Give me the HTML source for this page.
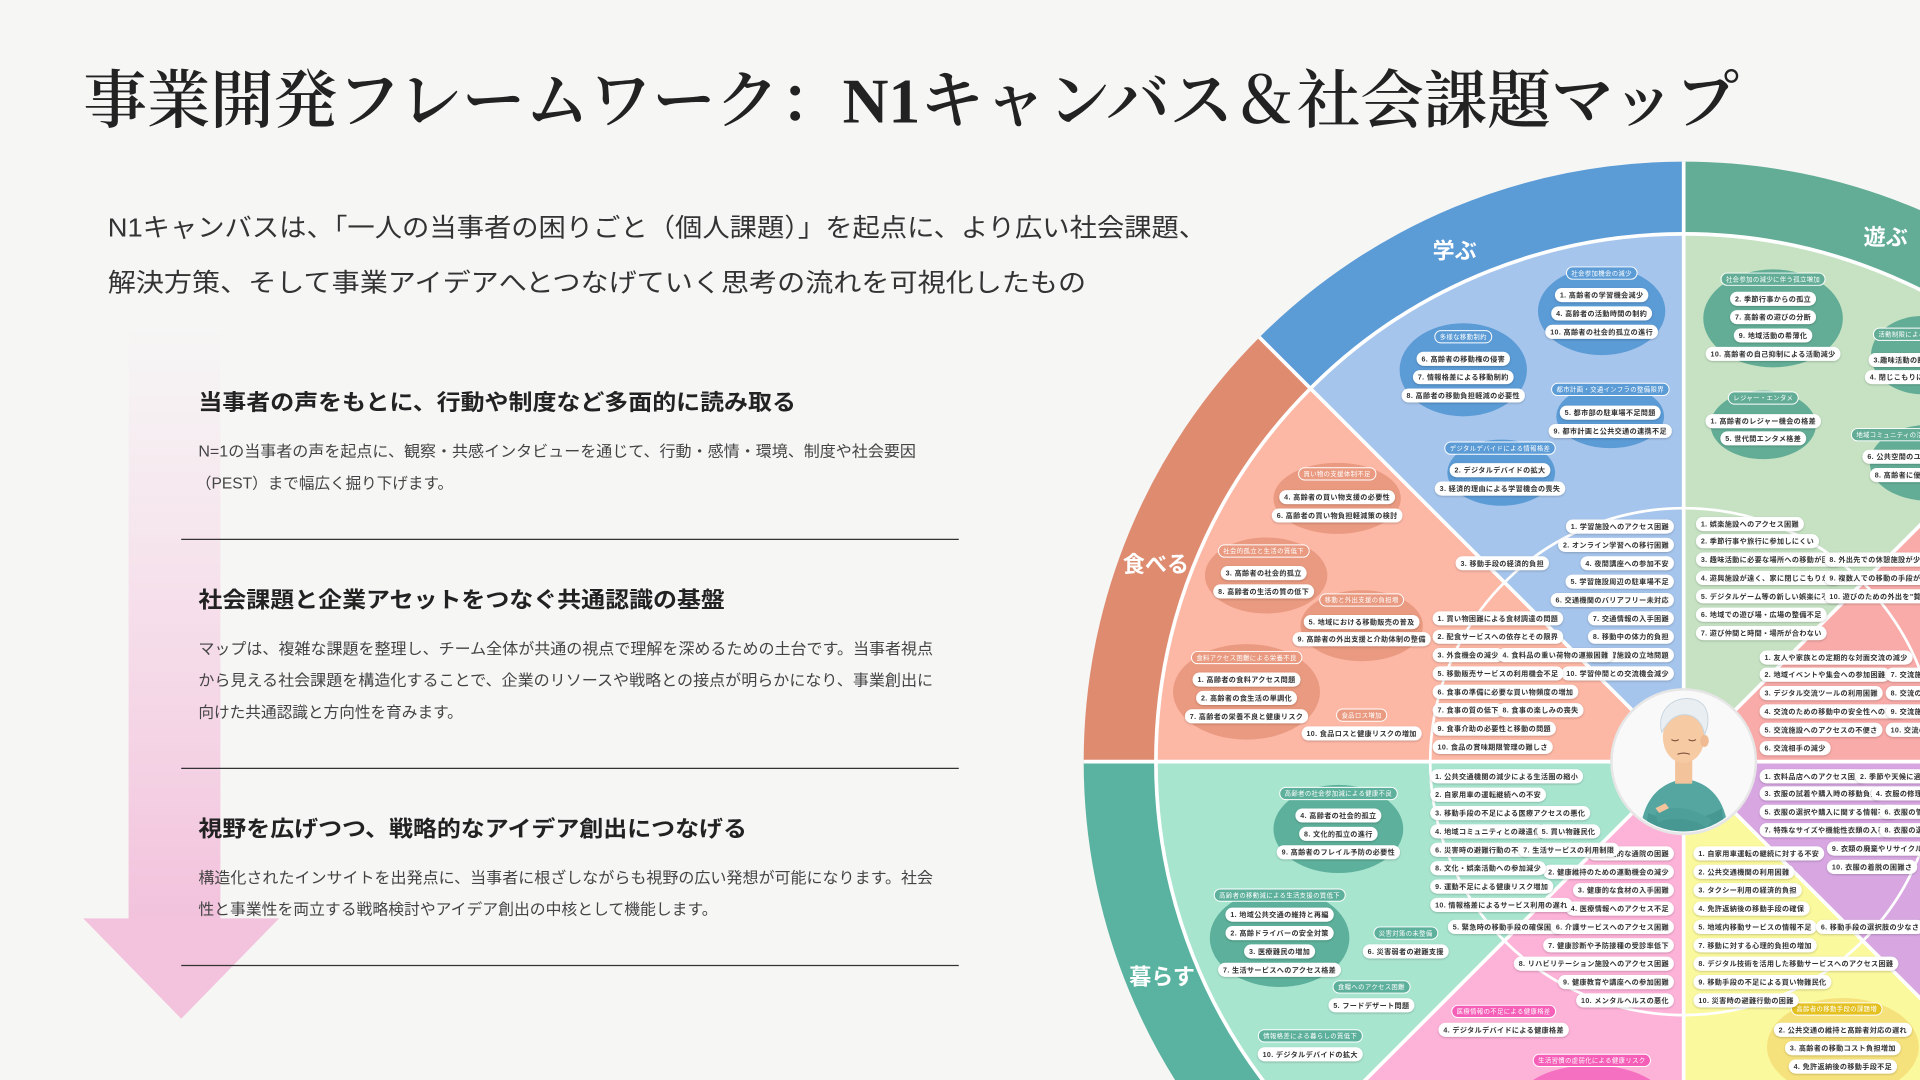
<!DOCTYPE html>
<html><head><meta charset="utf-8">
<style>
html,body{margin:0;padding:0;background:#f6f6f5;width:1920px;height:1080px;overflow:hidden;}
svg{display:block;}
.jp{font-family:"Liberation Sans","Noto Sans CJK JP",sans-serif;}
.p{font-family:"Liberation Sans","Noto Sans CJK JP",sans-serif;font-size:5.8px;font-weight:700;fill:#333;letter-spacing:0.3px;}
.l{font-family:"Liberation Sans","Noto Sans CJK JP",sans-serif;font-size:5.2px;fill:#fff;letter-spacing:0.3px;}
.sec{font-family:"Liberation Sans","Noto Sans CJK JP",sans-serif;font-size:18px;font-weight:700;fill:#fff;}
</style></head><body>
<svg id="s" xmlns="http://www.w3.org/2000/svg" width="1920" height="1080" viewBox="0 0 1568 882">
<defs>
<filter id="sh" x="-20%" y="-50%" width="140%" height="200%"><feDropShadow dx="0" dy="0.7" stdDeviation="0.8" flood-color="#000" flood-opacity="0.22"/></filter>
<linearGradient id="ag" x1="0" y1="0" x2="0" y2="1"><stop offset="0" stop-color="#f7d3e6" stop-opacity="0"/><stop offset="0.5" stop-color="#f5cde2" stop-opacity="0.6"/><stop offset="1" stop-color="#f2bfdb" stop-opacity="0.95"/></linearGradient>
<clipPath id="pc"><circle cx="1375" cy="622" r="57"/></clipPath>
</defs>
<rect width="1568" height="882" fill="#f6f6f5"/>

<rect x="105" y="265" width="75" height="486" fill="url(#ag)"/>
<polygon points="68,750 228,750 148,832" fill="#f3c3dd"/>

<text x="68" y="100" textLength="1352" lengthAdjust="spacingAndGlyphs" style="font-family:'Liberation Serif','Noto Serif CJK SC',serif;font-size:52px;font-weight:600;fill:#222">事業開発フレームワーク：N1キャンバス＆社会課題マップ</text>
<text class="jp" x="88" y="193" textLength="897" lengthAdjust="spacingAndGlyphs" style="font-size:21px;fill:#333">N1キャンバスは、「一人の当事者の困りごと（個人課題）」を起点に、より広い社会課題、</text>
<text class="jp" x="88" y="238" textLength="799" lengthAdjust="spacingAndGlyphs" style="font-size:21px;fill:#333">解決方策、そして事業アイデアへとつなげていく思考の流れを可視化したもの</text>

<g class="jp" style="fill:#222">
<text x="162" y="335" textLength="488" lengthAdjust="spacingAndGlyphs" style="font-size:18px;font-weight:700">当事者の声をもとに、行動や制度など多面的に読み取る</text>
<text x="162" y="496" textLength="430" lengthAdjust="spacingAndGlyphs" style="font-size:18px;font-weight:700">社会課題と企業アセットをつなぐ共通認識の基盤</text>
<text x="162" y="683" textLength="448" lengthAdjust="spacingAndGlyphs" style="font-size:18px;font-weight:700">視野を広げつつ、戦略的なアイデア創出につなげる</text>
</g>
<g class="jp" style="font-size:12.5px;fill:#444">
<text x="162" y="373" textLength="586" lengthAdjust="spacingAndGlyphs">N=1の当事者の声を起点に、観察・共感インタビューを通じて、行動・感情・環境、制度や社会要因</text>
<text x="160" y="399" textLength="210" lengthAdjust="spacingAndGlyphs">（PEST）まで幅広く掘り下げます。</text>
<text x="162" y="534" textLength="600" lengthAdjust="spacingAndGlyphs">マップは、複雑な課題を整理し、チーム全体が共通の視点で理解を深めるための土台です。当事者視点</text>
<text x="162" y="560" textLength="600" lengthAdjust="spacingAndGlyphs">から見える社会課題を構造化することで、企業のリソースや戦略との接点が明らかになり、事業創出に</text>
<text x="162" y="586" textLength="216" lengthAdjust="spacingAndGlyphs">向けた共通認識と方向性を育みます。</text>
<text x="162" y="721" textLength="600" lengthAdjust="spacingAndGlyphs">構造化されたインサイトを出発点に、当事者に根ざしながらも視野の広い発想が可能になります。社会</text>
<text x="162" y="747" textLength="424" lengthAdjust="spacingAndGlyphs">性と事業性を両立する戦略検討やアイデア創出の中核として機能します。</text>
</g>
<g stroke="#333" stroke-width="1"><line x1="148" y1="440.5" x2="783" y2="440.5"/><line x1="148" y1="627.5" x2="783" y2="627.5"/><line x1="148" y1="788.5" x2="783" y2="788.5"/></g>

<path d="M1375 622 L1028.5 275.5 A490 490 0 0 1 1375 132 Z" fill="#5b9bd6"/>
<path d="M1375 622 L1375 132 A490 490 0 0 1 1721.5 275.5 Z" fill="#63ad96"/>
<path d="M1375 622 L1721.5 275.5 A490 490 0 0 1 1865 622 Z" fill="#ee8c8a"/>
<path d="M1375 622 L1865 622 A490 490 0 0 1 1721.5 968.5 Z" fill="#b57bc6"/>
<path d="M1375 622 L1721.5 968.5 A490 490 0 0 1 1375 1112 Z" fill="#e8d64c"/>
<path d="M1375 622 L1375 1112 A490 490 0 0 1 1028.5 968.5 Z" fill="#f06ab5"/>
<path d="M1375 622 L1028.5 968.5 A490 490 0 0 1 885 622 Z" fill="#5ab3a0"/>
<path d="M1375 622 L885 622 A490 490 0 0 1 1028.5 275.5 Z" fill="#de8b70"/>
<path d="M1375 622 L1070.2 317.2 A431 431 0 0 1 1375 191 Z" fill="#a6c5ec"/>
<path d="M1375 622 L1375 191 A431 431 0 0 1 1679.8 317.2 Z" fill="#c6e2c3"/>
<path d="M1375 622 L1679.8 317.2 A431 431 0 0 1 1806 622 Z" fill="#f8aba8"/>
<path d="M1375 622 L1806 622 A431 431 0 0 1 1679.8 926.8 Z" fill="#d8a7e2"/>
<path d="M1375 622 L1679.8 926.8 A431 431 0 0 1 1375 1053 Z" fill="#fbf99d"/>
<path d="M1375 622 L1375 1053 A431 431 0 0 1 1070.2 926.8 Z" fill="#fdb2d8"/>
<path d="M1375 622 L1070.2 926.8 A431 431 0 0 1 944 622 Z" fill="#a8e5cf"/>
<path d="M1375 622 L944 622 A431 431 0 0 1 1070.2 317.2 Z" fill="#fdb7a5"/>
<g stroke="#fff" fill="none">
<circle cx="1375" cy="622" r="431" stroke-width="3"/>
<circle cx="1375" cy="622" r="207" stroke-width="2.2"/>
<line x1="885" y1="622" x2="1865" y2="622" stroke-width="3"/>
<line x1="1375" y1="132" x2="1375" y2="1112" stroke-width="3"/>
<line x1="1028.5" y1="275.5" x2="1721.5" y2="968.5" stroke-width="3"/>
<line x1="1028.5" y1="968.5" x2="1721.5" y2="275.5" stroke-width="3"/>
</g>
<text class="sec" x="1188" y="211" text-anchor="middle">学ぶ</text>
<text class="sec" x="1540" y="200" text-anchor="middle">遊ぶ</text>
<text class="sec" x="944" y="467" text-anchor="middle">食べる</text>
<text class="sec" x="949" y="804" text-anchor="middle">暮らす</text>

<g fill="#5b9bd6">
<ellipse cx="1308" cy="254" rx="52" ry="36"/><ellipse cx="1195" cy="302" rx="52" ry="38"/>
<ellipse cx="1315" cy="340" rx="44" ry="26"/><ellipse cx="1226" cy="386" rx="44" ry="27"/>
</g>
<g fill="#63ad96">
<ellipse cx="1448" cy="260" rx="57" ry="40"/><ellipse cx="1570" cy="290" rx="42" ry="32"/>
<ellipse cx="1440" cy="347" rx="43" ry="28"/><ellipse cx="1575" cy="378" rx="48" ry="31"/>
</g>
<g fill="#e99a80">
<ellipse cx="1092" cy="407" rx="52" ry="29"/><ellipse cx="1034" cy="470" rx="50" ry="31"/>
<ellipse cx="1112" cy="511" rx="50" ry="29"/><ellipse cx="1018" cy="565" rx="60" ry="39"/>
</g>
<g fill="#5db09b">
<ellipse cx="1093" cy="677" rx="53" ry="36"/><ellipse cx="1045" cy="766" rx="57" ry="40"/>
</g>
<ellipse cx="1505" cy="855" rx="62" ry="40" fill="#f6e27c"/>
<ellipse cx="1300" cy="900" rx="60" ry="30" fill="#f570c0"/>

<circle cx="1375" cy="622" r="59" fill="#f9f9f9" stroke="#e6e6e6" stroke-width="2"/>
<g clip-path="url(#pc)">
<path d="M1340 700 C1336 660 1350 640 1376 636 C1402 640 1414 660 1412 700 Z" fill="#55a6a1"/>
<rect x="1368" y="620" width="14" height="20" fill="#f3c39b"/>
<ellipse cx="1375" cy="602" rx="17" ry="21" fill="#f6caa2"/>
<ellipse cx="1392" cy="605" rx="3.5" ry="5" fill="#f0bb92"/>
<path d="M1357 598 C1352 578 1370 566 1386 572 C1397 577 1396 592 1392 600 C1390 588 1382 582 1372 584 C1364 586 1361 592 1357 598 Z" fill="#e9eef3" stroke="#c9d6df" stroke-width="0.8"/>
<path d="M1346 664 C1360 670 1390 672 1406 660 L1408 674 C1390 684 1360 684 1344 676 Z" fill="#479893"/>
<path d="M1352 664 C1365 656 1385 660 1398 670 L1394 676 C1382 668 1366 666 1354 672 Z" fill="#4d9f9a"/>
<path d="M1352 660 l8 -4 l3 4 l-8 4 Z" fill="#f3c39b"/>
<path d="M1365 604 q3 2 6 0 M1379 604 q3 2 6 0 M1370 616 q5 -2 10 0" stroke="#7a4b3a" stroke-width="0.9" fill="none"/>
</g>

<g id="pills">
<text class="l lb" x="1308" y="223" dy=".35em" text-anchor="middle">社会参加機会の減少</text>
<text class="p" x="1308" y="241" dy=".35em" text-anchor="middle">1. 高齢者の学習機会減少</text>
<text class="p" x="1308" y="256" dy=".35em" text-anchor="middle">4. 高齢者の活動時間の制約</text>
<text class="p" x="1308" y="271" dy=".35em" text-anchor="middle">10. 高齢者の社会的孤立の進行</text>
<text class="l lb" x="1195" y="275" dy=".35em" text-anchor="middle">多様な移動制約</text>
<text class="p" x="1195" y="293" dy=".35em" text-anchor="middle">6. 高齢者の移動権の侵害</text>
<text class="p" x="1195" y="308" dy=".35em" text-anchor="middle">7. 情報格差による移動制約</text>
<text class="p" x="1195" y="323" dy=".35em" text-anchor="middle">8. 高齢者の移動負担軽減の必要性</text>
<text class="l lb" x="1315" y="318" dy=".35em" text-anchor="middle">都市計画・交通インフラの整備限界</text>
<text class="p" x="1315" y="337" dy=".35em" text-anchor="middle">5. 都市部の駐車場不足問題</text>
<text class="p" x="1315" y="352" dy=".35em" text-anchor="middle">9. 都市計画と公共交通の連携不足</text>
<text class="l lb" x="1225" y="366" dy=".35em" text-anchor="middle">デジタルデバイドによる情報格差</text>
<text class="p" x="1225" y="384" dy=".35em" text-anchor="middle">2. デジタルデバイドの拡大</text>
<text class="p" x="1225" y="399" dy=".35em" text-anchor="middle">3. 経済的理由による学習機会の喪失</text>
<text class="l lg" x="1448" y="228" dy=".35em" text-anchor="middle">社会参加の減少に伴う孤立増加</text>
<text class="p" x="1448" y="244" dy=".35em" text-anchor="middle">2. 季節行事からの孤立</text>
<text class="p" x="1448" y="259" dy=".35em" text-anchor="middle">7. 高齢者の遊びの分断</text>
<text class="p" x="1448" y="274" dy=".35em" text-anchor="middle">9. 地域活動の希薄化</text>
<text class="p" x="1448" y="289" dy=".35em" text-anchor="middle">10. 高齢者の自己抑制による活動減少</text>
<text class="l lg" x="1534" y="273" dy=".35em">活動制限による孤立</text>
<text class="p" x="1530" y="294" dy=".35em">3.趣味活動の断絶と孤立</text>
<text class="p" x="1527" y="308" dy=".35em">4. 閉じこもりによる孤立</text>
<text class="l lg" x="1440" y="325" dy=".35em" text-anchor="middle">レジャー・エンタメ</text>
<text class="p" x="1440" y="344" dy=".35em" text-anchor="middle">1. 高齢者のレジャー機会の格差</text>
<text class="p" x="1440" y="358" dy=".35em" text-anchor="middle">5. 世代間エンタメ格差</text>
<text class="l lg" x="1516" y="355" dy=".35em">地域コミュニティの活力低下</text>
<text class="p" x="1525" y="373" dy=".35em">6. 公共空間のユニバーサルデザイン</text>
<text class="p" x="1531" y="388" dy=".35em">8. 高齢者に優しい街づくりの推進</text>
<text class="l lo" x="1092" y="387" dy=".35em" text-anchor="middle">買い物の支援体制不足</text>
<text class="p" x="1092" y="406" dy=".35em" text-anchor="middle">4. 高齢者の買い物支援の必要性</text>
<text class="p" x="1092" y="421" dy=".35em" text-anchor="middle">6. 高齢者の買い物負担軽減策の検討</text>
<text class="l lo" x="1032" y="450" dy=".35em" text-anchor="middle">社会的孤立と生活の質低下</text>
<text class="p" x="1032" y="468" dy=".35em" text-anchor="middle">3. 高齢者の社会的孤立</text>
<text class="p" x="1032" y="483" dy=".35em" text-anchor="middle">8. 高齢者の生活の質の低下</text>
<text class="l lo" x="1112" y="490" dy=".35em" text-anchor="middle">移動と外出支援の負担増</text>
<text class="p" x="1112" y="508" dy=".35em" text-anchor="middle">5. 地域における移動販売の普及</text>
<text class="p" x="1112" y="522" dy=".35em" text-anchor="middle">9. 高齢者の外出支援と介助体制の整備</text>
<text class="l lo" x="1018" y="537" dy=".35em" text-anchor="middle">食料アクセス困難による栄養不良</text>
<text class="p" x="1018" y="555" dy=".35em" text-anchor="middle">1. 高齢者の食料アクセス問題</text>
<text class="p" x="1018" y="570" dy=".35em" text-anchor="middle">2. 高齢者の食生活の単調化</text>
<text class="p" x="1018" y="585" dy=".35em" text-anchor="middle">7. 高齢者の栄養不良と健康リスク</text>
<text class="l lo" x="1112" y="584" dy=".35em" text-anchor="middle">食品ロス増加</text>
<text class="p" x="1112" y="599" dy=".35em" text-anchor="middle">10. 食品ロスと健康リスクの増加</text>
<text class="l lt" x="1093" y="648" dy=".35em" text-anchor="middle">高齢者の社会参加減による健康不良</text>
<text class="p" x="1093" y="666" dy=".35em" text-anchor="middle">4. 高齢者の社会的孤立</text>
<text class="p" x="1093" y="681" dy=".35em" text-anchor="middle">8. 文化的孤立の進行</text>
<text class="p" x="1093" y="696" dy=".35em" text-anchor="middle">9. 高齢者のフレイル予防の必要性</text>
<text class="l lt" x="1045" y="731" dy=".35em" text-anchor="middle">高齢者の移動減による生活支援の質低下</text>
<text class="p" x="1045" y="747" dy=".35em" text-anchor="middle">1. 地域公共交通の維持と再編</text>
<text class="p" x="1045" y="762" dy=".35em" text-anchor="middle">2. 高齢ドライバーの安全対策</text>
<text class="p" x="1045" y="777" dy=".35em" text-anchor="middle">3. 医療難民の増加</text>
<text class="p" x="1045" y="792" dy=".35em" text-anchor="middle">7. 生活サービスへのアクセス格差</text>
<text class="l lt" x="1148" y="762" dy=".35em" text-anchor="middle">災害対策の未整備</text>
<text class="p" x="1148" y="777" dy=".35em" text-anchor="middle">6. 災害弱者の避難支援</text>
<text class="l lt" x="1120" y="806" dy=".35em" text-anchor="middle">食糧へのアクセス困難</text>
<text class="p" x="1120" y="821" dy=".35em" text-anchor="middle">5. フードデザート問題</text>
<text class="l lt" x="1070" y="846" dy=".35em" text-anchor="middle">情報格差による暮らしの質低下</text>
<text class="p" x="1070" y="861" dy=".35em" text-anchor="middle">10. デジタルデバイドの拡大</text>
<text class="l lp" x="1228" y="826" dy=".35em" text-anchor="middle">医療情報の不足による健康格差</text>
<text class="p" x="1228" y="841" dy=".35em" text-anchor="middle">4. デジタルデバイドによる健康格差</text>
<text class="l lp" x="1300" y="866" dy=".35em" text-anchor="middle">生活習慣の虚弱化による健康リスク</text>
<text class="l ly" x="1500" y="824" dy=".35em" text-anchor="middle">高齢者の移動手段の課題増</text>
<text class="p" x="1505" y="841" dy=".35em" text-anchor="middle">2. 公共交通の維持と高齢者対応の遅れ</text>
<text class="p" x="1505" y="856" dy=".35em" text-anchor="middle">3. 高齢者の移動コスト負担増加</text>
<text class="p" x="1505" y="871" dy=".35em" text-anchor="middle">4. 免許返納後の移動手段不足</text>

<g text-anchor="end">
<text class="p" x="1363" y="430" dy=".35em">1. 学習施設へのアクセス困難</text>
<text class="p" x="1363" y="445" dy=".35em">2. オンライン学習への移行困難</text>
<text class="p" x="1261" y="460" dy=".35em">3. 移動手段の経済的負担</text>
<text class="p" x="1363" y="460" dy=".35em">4. 夜間講座への参加不安</text>
<text class="p" x="1363" y="475" dy=".35em">5. 学習施設周辺の駐車場不足</text>
<text class="p" x="1363" y="490" dy=".35em">6. 交通機関のバリアフリー未対応</text>
<text class="p" x="1363" y="505" dy=".35em">7. 交通情報の入手困難</text>
<text class="p" x="1363" y="520" dy=".35em">8. 移動中の体力的負担</text>
<text class="p" x="1363" y="535" dy=".35em">9. 学習施設の立地問題</text>
<text class="p" x="1363" y="550" dy=".35em">10. 学習仲間との交流機会減少</text>
<text class="p" x="1363" y="697" dy=".35em">1. 定期的な通院の困難</text>
<text class="p" x="1363" y="712" dy=".35em">2. 健康維持のための運動機会の減少</text>
<text class="p" x="1363" y="727" dy=".35em">3. 健康的な食材の入手困難</text>
<text class="p" x="1363" y="742" dy=".35em">4. 医療情報へのアクセス不足</text>
<text class="p" x="1273" y="757" dy=".35em">5. 緊急時の移動手段の確保困難</text>
<text class="p" x="1363" y="757" dy=".35em">6. 介護サービスへのアクセス困難</text>
<text class="p" x="1363" y="772" dy=".35em">7. 健康診断や予防接種の受診率低下</text>
<text class="p" x="1363" y="787" dy=".35em">8. リハビリテーション施設へのアクセス困難</text>
<text class="p" x="1363" y="802" dy=".35em">9. 健康教育や講座への参加困難</text>
<text class="p" x="1363" y="817" dy=".35em">10. メンタルヘルスの悪化</text>
</g>
<text class="p" x="1174" y="505" dy=".35em">1. 買い物困難による食材調達の問題</text>
<text class="p" x="1174" y="520" dy=".35em">2. 配食サービスへの依存とその限界</text>
<text class="p" x="1174" y="535" dy=".35em">3. 外食機会の減少</text>
<text class="p" x="1227" y="535" dy=".35em">4. 食料品の重い荷物の運搬困難</text>
<text class="p" x="1174" y="550" dy=".35em">5. 移動販売サービスの利用機会不足</text>
<text class="p" x="1174" y="565" dy=".35em">6. 食事の準備に必要な買い物頻度の増加</text>
<text class="p" x="1174" y="580" dy=".35em">7. 食事の質の低下</text>
<text class="p" x="1227" y="580" dy=".35em">8. 食事の楽しみの喪失</text>
<text class="p" x="1174" y="595" dy=".35em">9. 食事介助の必要性と移動の問題</text>
<text class="p" x="1174" y="610" dy=".35em">10. 食品の賞味期限管理の難しさ</text>
<text class="p" x="1172" y="634" dy=".35em">1. 公共交通機関の減少による生活圏の縮小</text>
<text class="p" x="1172" y="649" dy=".35em">2. 自家用車の運転継続への不安</text>
<text class="p" x="1172" y="664" dy=".35em">3. 移動手段の不足による医療アクセスの悪化</text>
<text class="p" x="1172" y="679" dy=".35em">4. 地域コミュニティとの疎遠化</text>
<text class="p" x="1259" y="679" dy=".35em">5. 買い物難民化</text>
<text class="p" x="1172" y="694" dy=".35em">6. 災害時の避難行動の不安</text>
<text class="p" x="1244" y="694" dy=".35em">7. 生活サービスの利用制限</text>
<text class="p" x="1172" y="709" dy=".35em">8. 文化・娯楽活動への参加減少</text>
<text class="p" x="1172" y="724" dy=".35em">9. 運動不足による健康リスク増加</text>
<text class="p" x="1172" y="739" dy=".35em">10. 情報格差によるサービス利用の遅れ</text>
<text class="p" x="1387" y="697" dy=".35em">1. 自家用車運転の継続に対する不安</text>
<text class="p" x="1387" y="712" dy=".35em">2. 公共交通機関の利用困難</text>
<text class="p" x="1387" y="727" dy=".35em">3. タクシー利用の経済的負担</text>
<text class="p" x="1387" y="742" dy=".35em">4. 免許返納後の移動手段の確保</text>
<text class="p" x="1387" y="757" dy=".35em">5. 地域内移動サービスの情報不足</text>
<text class="p" x="1487" y="757" dy=".35em">6. 移動手段の選択肢の少なさ</text>
<text class="p" x="1387" y="772" dy=".35em">7. 移動に対する心理的負担の増加</text>
<text class="p" x="1387" y="787" dy=".35em">8. デジタル技術を活用した移動サービスへのアクセス困難</text>
<text class="p" x="1387" y="802" dy=".35em">9. 移動手段の不足による買い物難民化</text>
<text class="p" x="1387" y="817" dy=".35em">10. 災害時の避難行動の困難</text>
<text class="p" x="1389" y="428" dy=".35em">1. 娯楽施設へのアクセス困難</text>
<text class="p" x="1389" y="442" dy=".35em">2. 季節行事や旅行に参加しにくい</text>
<text class="p" x="1389" y="457" dy=".35em">3. 趣味活動に必要な場所への移動が困難</text>
<text class="p" x="1494" y="457" dy=".35em">8. 外出先での休憩施設が少ない</text>
<text class="p" x="1389" y="472" dy=".35em">4. 遊興施設が遠く、家に閉じこもりがち</text>
<text class="p" x="1494" y="472" dy=".35em">9. 複数人での移動の手段がない</text>
<text class="p" x="1389" y="487" dy=".35em">5. デジタルゲーム等の新しい娯楽に不慣れ</text>
<text class="p" x="1494" y="487" dy=".35em">10. 遊びのための外出を"贅沢"と感じる</text>
<text class="p" x="1389" y="502" dy=".35em">6. 地域での遊び場・広場の整備不足</text>
<text class="p" x="1389" y="517" dy=".35em">7. 遊び仲間と時間・場所が合わない</text>
<text class="p" x="1441" y="537" dy=".35em">1. 友人や家族との定期的な対面交流の減少</text>
<text class="p" x="1441" y="551" dy=".35em">2. 地域イベントや集会への参加困難</text>
<text class="p" x="1544" y="551" dy=".35em">7. 交流施設の不足</text>
<text class="p" x="1441" y="566" dy=".35em">3. デジタル交流ツールの利用困難</text>
<text class="p" x="1544" y="566" dy=".35em">8. 交流の機会不足</text>
<text class="p" x="1441" y="581" dy=".35em">4. 交流のための移動中の安全性への不安</text>
<text class="p" x="1544" y="581" dy=".35em">9. 交流施設の情報不足</text>
<text class="p" x="1441" y="596" dy=".35em">5. 交流施設へのアクセスの不便さ</text>
<text class="p" x="1544" y="596" dy=".35em">10. 交流の減少</text>
<text class="p" x="1441" y="611" dy=".35em">6. 交流相手の減少</text>
<text class="p" x="1441" y="634" dy=".35em">1. 衣料品店へのアクセス困難</text>
<text class="p" x="1519" y="634" dy=".35em">2. 季節や天候に適した衣服の入手</text>
<text class="p" x="1441" y="648" dy=".35em">3. 衣服の試着や購入時の移動負担</text>
<text class="p" x="1532" y="648" dy=".35em">4. 衣服の修理や手入れ</text>
<text class="p" x="1441" y="663" dy=".35em">5. 衣服の選択や購入に関する情報不足</text>
<text class="p" x="1539" y="663" dy=".35em">6. 衣服の管理</text>
<text class="p" x="1441" y="678" dy=".35em">7. 特殊なサイズや機能性衣類の入手困難</text>
<text class="p" x="1539" y="678" dy=".35em">8. 衣服の選択</text>
<text class="p" x="1496" y="693" dy=".35em">9. 衣類の廃棄やリサイクルの方法</text>
<text class="p" x="1496" y="708" dy=".35em">10. 衣服の着脱の困難さ</text>
</g>
</svg>
<script>
(function(){
var ns="http://www.w3.org/2000/svg";
var col={lb:"#5b9bd6",lg:"#63ad96",lo:"#e99a80",lt:"#5db09b",lp:"#f55fb8",ly:"#e4c020"};
var ts=document.querySelectorAll("#pills text");
for(var i=0;i<ts.length;i++){
 var t=ts[i],b;
 try{b=t.getBBox();}catch(e){continue;}
 var cy=parseFloat(t.getAttribute("y"));
 var r=document.createElementNS(ns,"rect");
 var isL=t.classList.contains("l");
 var h=isL?10:11.5;
 r.setAttribute("x",b.x-4);r.setAttribute("y",cy-h/2);
 r.setAttribute("width",b.width+8);r.setAttribute("height",h);
 r.setAttribute("rx",h/2);
 if(isL){
  var c="#888";for(var k in col){if(t.classList.contains(k))c=col[k];}
  r.setAttribute("fill",c);r.setAttribute("stroke","#fff");r.setAttribute("stroke-width","0.8");
 }else{
  r.setAttribute("fill","#fff");r.setAttribute("filter","url(#sh)");
 }
 t.parentNode.insertBefore(r,t);
}
})();
</script>
</body></html>
